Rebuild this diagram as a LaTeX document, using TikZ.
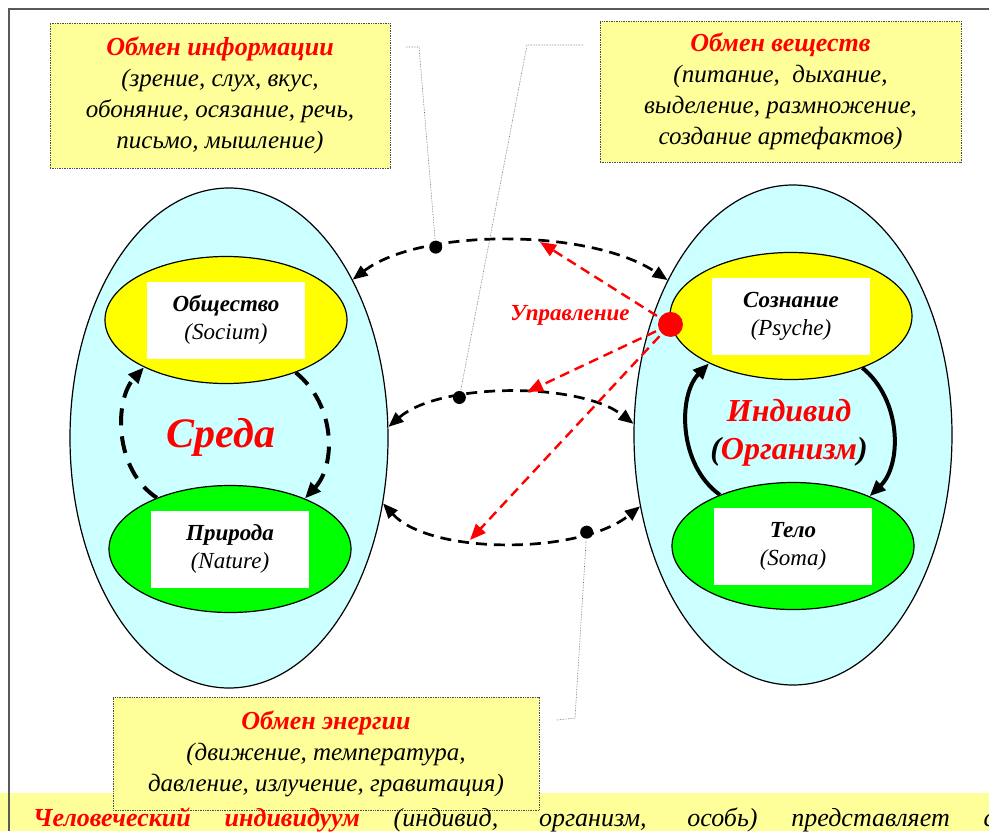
\documentclass[tikz,border=0pt]{standalone}
\usepackage{fontspec}
\setmainfont{Liberation Serif}
\usetikzlibrary{shapes.geometric,arrows.meta}
\definecolor{zheltyj}{HTML}{FFFF99}
\definecolor{goluboj}{HTML}{CCFFFF}
\definecolor{zheltyjyarkij}{HTML}{FFFF00}
\definecolor{zelenyj}{HTML}{00FF00}

\begin{document}
\begin{tikzpicture}[x=1pt, y=-1pt,
  oblast/.style={ellipse, draw, line width=1.2pt, fill=goluboj, inner sep=0pt, minimum width=318pt, minimum height=500pt},
  sfera/.style={ellipse, draw, line width=1.2pt, inner sep=0pt, minimum width=242pt, minimum height=127pt},
  tablo/.style={fill=white, minimum width=158pt, minimum height=77pt, align=center, inner sep=0pt, font=\fontsize{23}{28}\selectfont\itshape},
  vynoska/.style={draw=black!70, densely dotted, line width=0.7pt, fill=zheltyj, align=center, inner sep=0pt, font=\fontsize{25}{31}\selectfont\itshape},
  zagl/.style={text=red, font=\bfseries\itshape},
  obmen/.style={{Triangle[length=15pt,width=12pt]}-{Triangle[length=15pt,width=12pt]}, line width=2.7pt, dash pattern=on 11pt off 7pt},
  tochka/.style={circle, fill=black, inner sep=0pt, minimum size=13pt},
  vyv/.style={draw=black!60, densely dotted, line width=0.6pt},
  cikl/.style={-{Triangle[length=16pt,width=13pt]}, line width=4pt},
  upr/.style={-{Triangle[length=16pt,width=13pt]}, red, line width=2.4pt, dash pattern=on 10pt off 6pt}]
\useasboundingbox (0,0) rectangle (989,831);
\fill[zheltyj] (0,793) rectangle (989,831);
\draw[black!65, line width=2pt] (9,831) -- (9,9) -- (989,9);

\node[vynoska, minimum width=340pt, minimum height=145pt] (info) at (220,95.5)
  {{\color{red}\fontsize{26}{31}\selectfont\bfseries Обмен информации}\\(зрение, слух, вкус,\\обоняние, осязание, речь,\\письмо, мышление)};
\node[vynoska, minimum width=361pt, minimum height=141pt] (veshch) at (780.5,91.5)
  {{\color{red}\fontsize{26}{31}\selectfont\bfseries Обмен веществ}\\(питание,\ \ дыхание,\\выделение, размножение,\\создание артефактов)};
\node[vynoska, minimum width=426pt, minimum height=113pt] (energ) at (326,753.5)
  {{\color{red}\fontsize{26}{31}\selectfont\bfseries Обмен энергии}\\(движение, температура,\\давление, излучение, гравитация)};
\node[anchor=base west, inner sep=0pt, font=\fontsize{26}{31}\selectfont\itshape] (podpis) at (33,826)
  {\makebox[962pt][s]{{\color{red}\bfseries Человеческий индивидуум} (индивид, организм, особь) представляет с}};

\node[oblast] (sreda) at (229,438) {};
\node[oblast] (individ) at (793,435) {};
\node[sfera, fill=zheltyjyarkij] (obsh) at (226,320) {};
\node[sfera, fill=zelenyj] (prir) at (230,549) {};
\node[sfera, fill=zheltyjyarkij] (soz) at (791,316) {};
\node[sfera, fill=zelenyj] (telo) at (793,546) {};
\node[tablo] at (obsh) {{\bfseries Общество}\\(Socium)};
\node[tablo] at (prir) {{\bfseries Природа}\\(Nature)};
\node[tablo] at (soz) {{\bfseries Сознание}\\(Psyche)};
\node[tablo] at (telo) {{\bfseries Тело}\\(Soma)};
\node[zagl, font=\fontsize{42}{48}\selectfont\bfseries\itshape] (sredatxt) at (221,437) {Среда};
\node[align=center, font=\fontsize{32}{38}\selectfont\bfseries\itshape] (indtxt) at (789,433)
  {\textcolor{red}{Индивид}\\(\textcolor{red}{Организм})};

\draw[cikl, dash pattern=on 17pt off 11pt] (prir.145) .. controls (114,470) and (114,400) .. (obsh.210);
\draw[cikl, dash pattern=on 17pt off 11pt] (obsh.-37) .. controls (336,405) and (336,465) .. (prir.34);
\draw[cikl] (telo.145) .. controls (678,465) and (678,395) .. (soz.210);
\draw[cikl] (soz.-36) .. controls (902,400) and (902,465) .. (telo.33);

\draw[obmen] (sreda.52) .. controls (420,228) and (590,228) .. node[tochka, pos=0.3] (t1) {} (individ.129);
\draw[obmen] (sreda.4) .. controls (440,382) and (580,382) .. node[tochka, pos=0.32] (t2) {} (individ.176);
\draw[obmen] (sreda.-23) .. controls (430,555) and (580,555) .. node[tochka, pos=0.77] (t3) {} (individ.205);

\coordinate (v1) at (406,47);
\coordinate (v2) at (583,45);
\coordinate (v3) at (557,720);
\draw[vyv] (v1) -- (419,47) -- (t1);
\draw[vyv] (v2) -- (527,45) -- (t2);
\draw[vyv] (v3) -- (575,718) -- (t3);

\node[circle, fill=red, inner sep=0pt, minimum size=25pt] (ctrl) at (soz.184) {};
\coordinate (u1) at (540,242);
\coordinate (u2) at (527,392);
\coordinate (u3) at (470,540);
\draw[upr] (ctrl.center) -- (u1);
\draw[upr] (ctrl.center) -- (u2);
\draw[upr] (ctrl.center) -- (u3);
\node[zagl, font=\fontsize{23}{28}\selectfont\bfseries\itshape] (upravl) at (570,315) {Управление};
\end{tikzpicture}
\end{document}
